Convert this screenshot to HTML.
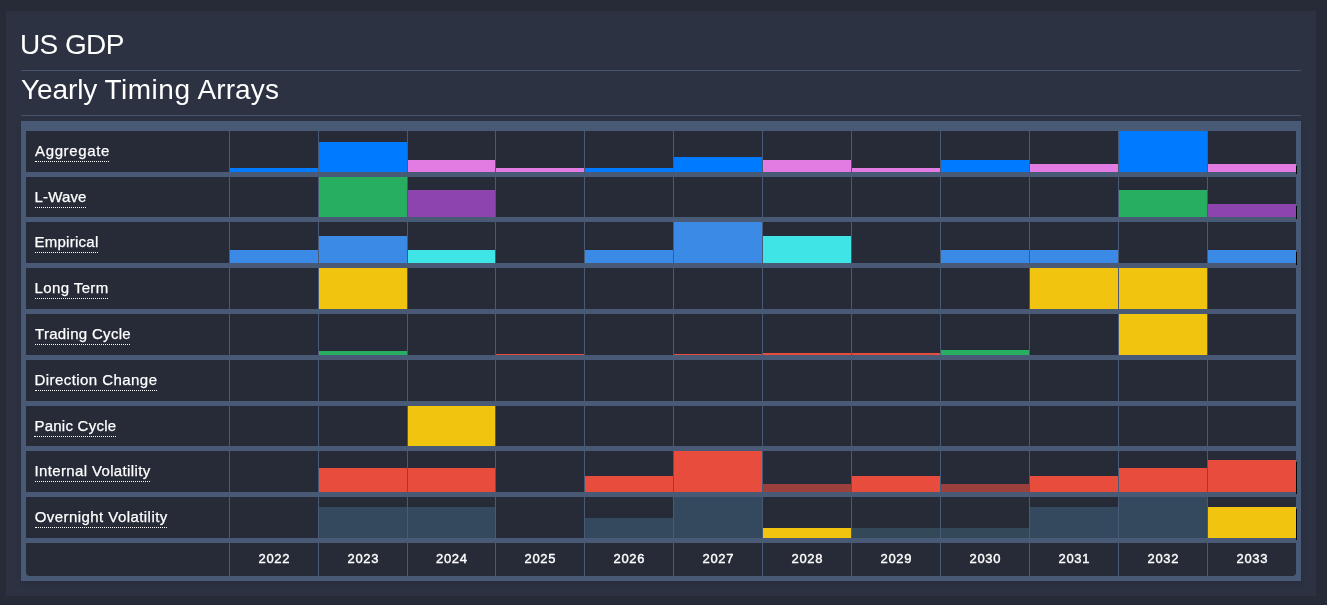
<!DOCTYPE html>
<html lang="en"><head><meta charset="utf-8"><title>US GDP - Yearly Timing Arrays</title>
<style>
html,body{margin:0;padding:0}
body{width:1327px;height:605px;overflow:hidden;background:#262b37;position:relative;font-family:"Liberation Sans",sans-serif;color:#fff}
.panel{position:absolute;left:6px;top:11px;width:1310px;height:585px;background:#2c3242}
h1,h2{position:absolute;margin:0;font-weight:400;font-size:28px;line-height:32px;left:21px;white-space:nowrap;color:#fff}
h1{top:29px;letter-spacing:-0.6px;left:20px}
h2{top:74px;width:300px;height:32px}
h2 span{position:absolute;top:0}
.hr{position:absolute;left:21px;width:1280px;height:1px;background:#46546f}
.tbl{position:absolute;left:21px;top:121px;width:1280px;height:460px;background:#495a77;box-shadow:0 2px 6px rgba(0,0,0,.12)}
.c{position:absolute;background:#262b37}
.b{position:absolute}
.k{position:absolute;width:1px;background:#000;left:1296px}
.lab{position:absolute;left:35px;font-size:15px;line-height:20px;white-space:nowrap;color:#fff}
.lab span{display:inline-block;border-bottom:1px dotted #fff}
.lab i{font-style:normal;-webkit-text-stroke:0.25px #fff}
.yr{position:absolute;font-size:13px;line-height:16px;font-weight:400;-webkit-text-stroke:0.4px #fff;letter-spacing:0.65px;text-indent:0.65px;text-align:center;color:#fff}
</style></head><body>
<div class="panel"></div>
<h1>US GDP</h1>
<div class="hr" style="top:70px"></div>
<h2><span style="left:0;letter-spacing:-0.1px">Yearly</span> <span style="left:83.5px;letter-spacing:0.5px">Timing</span> <span style="left:176.5px;letter-spacing:0.1px">Arrays</span></h2>
<div class="hr" style="top:115px"></div>
<div class="tbl"></div>

<div class="c" style="left:26px;top:131px;width:203px;height:41px"></div>
<div class="c" style="left:230px;top:131px;width:88px;height:41px"></div>
<div class="b" style="left:230px;top:168px;width:88px;height:4px;background:#007bff"></div>
<div class="c" style="left:319px;top:131px;width:88px;height:41px"></div>
<div class="b" style="left:319px;top:142px;width:88px;height:30px;background:#007bff"></div>
<div class="c" style="left:408px;top:131px;width:87px;height:41px"></div>
<div class="b" style="left:408px;top:160px;width:87px;height:12px;background:#e27be2"></div>
<div class="c" style="left:496px;top:131px;width:88px;height:41px"></div>
<div class="b" style="left:496px;top:168px;width:88px;height:4px;background:#e27be2"></div>
<div class="c" style="left:585px;top:131px;width:88px;height:41px"></div>
<div class="b" style="left:585px;top:168px;width:88px;height:4px;background:#007bff"></div>
<div class="c" style="left:674px;top:131px;width:88px;height:41px"></div>
<div class="b" style="left:674px;top:157px;width:88px;height:15px;background:#007bff"></div>
<div class="c" style="left:763px;top:131px;width:88px;height:41px"></div>
<div class="b" style="left:763px;top:160px;width:88px;height:12px;background:#e27be2"></div>
<div class="c" style="left:852px;top:131px;width:88px;height:41px"></div>
<div class="b" style="left:852px;top:168px;width:88px;height:4px;background:#e27be2"></div>
<div class="c" style="left:941px;top:131px;width:88px;height:41px"></div>
<div class="b" style="left:941px;top:160px;width:88px;height:12px;background:#007bff"></div>
<div class="c" style="left:1030px;top:131px;width:88px;height:41px"></div>
<div class="b" style="left:1030px;top:164px;width:88px;height:8px;background:#e27be2"></div>
<div class="c" style="left:1119px;top:131px;width:88px;height:41px"></div>
<div class="b" style="left:1119px;top:131px;width:88px;height:41px;background:#007bff"></div>
<div class="c" style="left:1208px;top:131px;width:88px;height:41px"></div>
<div class="b" style="left:1208px;top:164px;width:88px;height:8px;background:#e27be2"></div>
<div class="k" style="top:166px;height:8px"></div>
<div class="lab" style="top:141px;left:35.0px;letter-spacing:0.64px"><span style="width:74.0px"><i>Aggregate</i></span></div>
<div class="c" style="left:26px;top:177px;width:203px;height:40px"></div>
<div class="c" style="left:230px;top:177px;width:88px;height:40px"></div>
<div class="c" style="left:319px;top:177px;width:88px;height:40px"></div>
<div class="b" style="left:319px;top:177px;width:88px;height:40px;background:#27ae60"></div>
<div class="c" style="left:408px;top:177px;width:87px;height:40px"></div>
<div class="b" style="left:408px;top:190px;width:87px;height:27px;background:#8e44ad"></div>
<div class="c" style="left:496px;top:177px;width:88px;height:40px"></div>
<div class="c" style="left:585px;top:177px;width:88px;height:40px"></div>
<div class="c" style="left:674px;top:177px;width:88px;height:40px"></div>
<div class="c" style="left:763px;top:177px;width:88px;height:40px"></div>
<div class="c" style="left:852px;top:177px;width:88px;height:40px"></div>
<div class="c" style="left:941px;top:177px;width:88px;height:40px"></div>
<div class="c" style="left:1030px;top:177px;width:88px;height:40px"></div>
<div class="c" style="left:1119px;top:177px;width:88px;height:40px"></div>
<div class="b" style="left:1119px;top:190px;width:88px;height:27px;background:#27ae60"></div>
<div class="c" style="left:1208px;top:177px;width:88px;height:40px"></div>
<div class="b" style="left:1208px;top:204px;width:88px;height:13px;background:#8e44ad"></div>
<div class="k" style="top:206px;height:13px"></div>
<div class="lab" style="top:187px;left:34.6px;letter-spacing:0.15px"><span style="width:51.4px"><i>L-Wave</i></span></div>
<div class="c" style="left:26px;top:222px;width:203px;height:41px"></div>
<div class="c" style="left:230px;top:222px;width:88px;height:41px"></div>
<div class="b" style="left:230px;top:250px;width:88px;height:13px;background:#3a8ae6"></div>
<div class="c" style="left:319px;top:222px;width:88px;height:41px"></div>
<div class="b" style="left:319px;top:236px;width:88px;height:27px;background:#3a8ae6"></div>
<div class="c" style="left:408px;top:222px;width:87px;height:41px"></div>
<div class="b" style="left:408px;top:250px;width:87px;height:13px;background:#3ee4e6"></div>
<div class="c" style="left:496px;top:222px;width:88px;height:41px"></div>
<div class="c" style="left:585px;top:222px;width:88px;height:41px"></div>
<div class="b" style="left:585px;top:250px;width:88px;height:13px;background:#3a8ae6"></div>
<div class="c" style="left:674px;top:222px;width:88px;height:41px"></div>
<div class="b" style="left:674px;top:222px;width:88px;height:41px;background:#3a8ae6"></div>
<div class="c" style="left:763px;top:222px;width:88px;height:41px"></div>
<div class="b" style="left:763px;top:236px;width:88px;height:27px;background:#3ee4e6"></div>
<div class="c" style="left:852px;top:222px;width:88px;height:41px"></div>
<div class="c" style="left:941px;top:222px;width:88px;height:41px"></div>
<div class="b" style="left:941px;top:250px;width:88px;height:13px;background:#3a8ae6"></div>
<div class="c" style="left:1030px;top:222px;width:88px;height:41px"></div>
<div class="b" style="left:1030px;top:250px;width:88px;height:13px;background:#3a8ae6"></div>
<div class="c" style="left:1119px;top:222px;width:88px;height:41px"></div>
<div class="c" style="left:1208px;top:222px;width:88px;height:41px"></div>
<div class="b" style="left:1208px;top:250px;width:88px;height:13px;background:#3a8ae6"></div>
<div class="k" style="top:252px;height:13px"></div>
<div class="lab" style="top:232px;left:34.5px;letter-spacing:0.26px"><span style="width:63.5px"><i>Empirical</i></span></div>
<div class="c" style="left:26px;top:268px;width:203px;height:41px"></div>
<div class="c" style="left:230px;top:268px;width:88px;height:41px"></div>
<div class="c" style="left:319px;top:268px;width:88px;height:41px"></div>
<div class="b" style="left:319px;top:268px;width:88px;height:41px;background:#f1c40f"></div>
<div class="c" style="left:408px;top:268px;width:87px;height:41px"></div>
<div class="c" style="left:496px;top:268px;width:88px;height:41px"></div>
<div class="c" style="left:585px;top:268px;width:88px;height:41px"></div>
<div class="c" style="left:674px;top:268px;width:88px;height:41px"></div>
<div class="c" style="left:763px;top:268px;width:88px;height:41px"></div>
<div class="c" style="left:852px;top:268px;width:88px;height:41px"></div>
<div class="c" style="left:941px;top:268px;width:88px;height:41px"></div>
<div class="c" style="left:1030px;top:268px;width:88px;height:41px"></div>
<div class="b" style="left:1030px;top:268px;width:88px;height:41px;background:#f1c40f"></div>
<div class="c" style="left:1119px;top:268px;width:88px;height:41px"></div>
<div class="b" style="left:1119px;top:268px;width:88px;height:41px;background:#f1c40f"></div>
<div class="c" style="left:1208px;top:268px;width:88px;height:41px"></div>
<div class="lab" style="top:278px;left:34.6px;letter-spacing:0.38px"><span style="width:73.4px"><i>Long Term</i></span></div>
<div class="c" style="left:26px;top:314px;width:203px;height:41px"></div>
<div class="c" style="left:230px;top:314px;width:88px;height:41px"></div>
<div class="c" style="left:319px;top:314px;width:88px;height:41px"></div>
<div class="b" style="left:319px;top:351px;width:88px;height:4px;background:#27ae60"></div>
<div class="c" style="left:408px;top:314px;width:87px;height:41px"></div>
<div class="c" style="left:496px;top:314px;width:88px;height:41px"></div>
<div class="b" style="left:496px;top:354px;width:88px;height:1px;background:#e74c3c"></div>
<div class="c" style="left:585px;top:314px;width:88px;height:41px"></div>
<div class="c" style="left:674px;top:314px;width:88px;height:41px"></div>
<div class="b" style="left:674px;top:354px;width:88px;height:1px;background:#e74c3c"></div>
<div class="c" style="left:763px;top:314px;width:88px;height:41px"></div>
<div class="b" style="left:763px;top:353px;width:88px;height:2px;background:#e74c3c"></div>
<div class="c" style="left:852px;top:314px;width:88px;height:41px"></div>
<div class="b" style="left:852px;top:353px;width:88px;height:2px;background:#e74c3c"></div>
<div class="c" style="left:941px;top:314px;width:88px;height:41px"></div>
<div class="b" style="left:941px;top:350px;width:88px;height:5px;background:#27ae60"></div>
<div class="c" style="left:1030px;top:314px;width:88px;height:41px"></div>
<div class="c" style="left:1119px;top:314px;width:88px;height:41px"></div>
<div class="b" style="left:1119px;top:314px;width:88px;height:41px;background:#f1c40f"></div>
<div class="c" style="left:1208px;top:314px;width:88px;height:41px"></div>
<div class="lab" style="top:324px;left:35.0px;letter-spacing:0.31px"><span style="width:95.0px"><i>Trading Cycle</i></span></div>
<div class="c" style="left:26px;top:360px;width:203px;height:41px"></div>
<div class="c" style="left:230px;top:360px;width:88px;height:41px"></div>
<div class="c" style="left:319px;top:360px;width:88px;height:41px"></div>
<div class="c" style="left:408px;top:360px;width:87px;height:41px"></div>
<div class="c" style="left:496px;top:360px;width:88px;height:41px"></div>
<div class="c" style="left:585px;top:360px;width:88px;height:41px"></div>
<div class="c" style="left:674px;top:360px;width:88px;height:41px"></div>
<div class="c" style="left:763px;top:360px;width:88px;height:41px"></div>
<div class="c" style="left:852px;top:360px;width:88px;height:41px"></div>
<div class="c" style="left:941px;top:360px;width:88px;height:41px"></div>
<div class="c" style="left:1030px;top:360px;width:88px;height:41px"></div>
<div class="c" style="left:1119px;top:360px;width:88px;height:41px"></div>
<div class="c" style="left:1208px;top:360px;width:88px;height:41px"></div>
<div class="lab" style="top:370px;left:34.5px;letter-spacing:0.44px"><span style="width:122.5px"><i>Direction Change</i></span></div>
<div class="c" style="left:26px;top:406px;width:203px;height:40px"></div>
<div class="c" style="left:230px;top:406px;width:88px;height:40px"></div>
<div class="c" style="left:319px;top:406px;width:88px;height:40px"></div>
<div class="c" style="left:408px;top:406px;width:87px;height:40px"></div>
<div class="b" style="left:408px;top:406px;width:87px;height:40px;background:#f1c40f"></div>
<div class="c" style="left:496px;top:406px;width:88px;height:40px"></div>
<div class="c" style="left:585px;top:406px;width:88px;height:40px"></div>
<div class="c" style="left:674px;top:406px;width:88px;height:40px"></div>
<div class="c" style="left:763px;top:406px;width:88px;height:40px"></div>
<div class="c" style="left:852px;top:406px;width:88px;height:40px"></div>
<div class="c" style="left:941px;top:406px;width:88px;height:40px"></div>
<div class="c" style="left:1030px;top:406px;width:88px;height:40px"></div>
<div class="c" style="left:1119px;top:406px;width:88px;height:40px"></div>
<div class="c" style="left:1208px;top:406px;width:88px;height:40px"></div>
<div class="lab" style="top:416px;left:34.4px;letter-spacing:0.25px"><span style="width:81.6px"><i>Panic Cycle</i></span></div>
<div class="c" style="left:26px;top:451px;width:203px;height:41px"></div>
<div class="c" style="left:230px;top:451px;width:88px;height:41px"></div>
<div class="c" style="left:319px;top:451px;width:88px;height:41px"></div>
<div class="b" style="left:319px;top:468px;width:88px;height:24px;background:#e74c3c"></div>
<div class="c" style="left:408px;top:451px;width:87px;height:41px"></div>
<div class="b" style="left:408px;top:468px;width:87px;height:24px;background:#e74c3c"></div>
<div class="c" style="left:496px;top:451px;width:88px;height:41px"></div>
<div class="c" style="left:585px;top:451px;width:88px;height:41px"></div>
<div class="b" style="left:585px;top:476px;width:88px;height:16px;background:#e74c3c"></div>
<div class="c" style="left:674px;top:451px;width:88px;height:41px"></div>
<div class="b" style="left:674px;top:451px;width:88px;height:41px;background:#e74c3c"></div>
<div class="c" style="left:763px;top:451px;width:88px;height:41px"></div>
<div class="b" style="left:763px;top:484px;width:88px;height:8px;background:#9c403e"></div>
<div class="c" style="left:852px;top:451px;width:88px;height:41px"></div>
<div class="b" style="left:852px;top:476px;width:88px;height:16px;background:#e74c3c"></div>
<div class="c" style="left:941px;top:451px;width:88px;height:41px"></div>
<div class="b" style="left:941px;top:484px;width:88px;height:8px;background:#9c403e"></div>
<div class="c" style="left:1030px;top:451px;width:88px;height:41px"></div>
<div class="b" style="left:1030px;top:476px;width:88px;height:16px;background:#e74c3c"></div>
<div class="c" style="left:1119px;top:451px;width:88px;height:41px"></div>
<div class="b" style="left:1119px;top:468px;width:88px;height:24px;background:#e74c3c"></div>
<div class="c" style="left:1208px;top:451px;width:88px;height:41px"></div>
<div class="b" style="left:1208px;top:460px;width:88px;height:32px;background:#e74c3c"></div>
<div class="k" style="top:462px;height:32px"></div>
<div class="lab" style="top:461px;left:34.5px;letter-spacing:0.36px"><span style="width:115.5px"><i>Internal Volatility</i></span></div>
<div class="c" style="left:26px;top:497px;width:203px;height:41px"></div>
<div class="c" style="left:230px;top:497px;width:88px;height:41px"></div>
<div class="c" style="left:319px;top:497px;width:88px;height:41px"></div>
<div class="b" style="left:319px;top:507px;width:88px;height:31px;background:#34495e"></div>
<div class="c" style="left:408px;top:497px;width:87px;height:41px"></div>
<div class="b" style="left:408px;top:507px;width:87px;height:31px;background:#34495e"></div>
<div class="c" style="left:496px;top:497px;width:88px;height:41px"></div>
<div class="c" style="left:585px;top:497px;width:88px;height:41px"></div>
<div class="b" style="left:585px;top:518px;width:88px;height:20px;background:#34495e"></div>
<div class="c" style="left:674px;top:497px;width:88px;height:41px"></div>
<div class="b" style="left:674px;top:497px;width:88px;height:41px;background:#34495e"></div>
<div class="c" style="left:763px;top:497px;width:88px;height:41px"></div>
<div class="b" style="left:763px;top:528px;width:88px;height:10px;background:#f1c40f"></div>
<div class="c" style="left:852px;top:497px;width:88px;height:41px"></div>
<div class="b" style="left:852px;top:528px;width:88px;height:10px;background:#33495a"></div>
<div class="c" style="left:941px;top:497px;width:88px;height:41px"></div>
<div class="b" style="left:941px;top:528px;width:88px;height:10px;background:#33495a"></div>
<div class="c" style="left:1030px;top:497px;width:88px;height:41px"></div>
<div class="b" style="left:1030px;top:507px;width:88px;height:31px;background:#34495e"></div>
<div class="c" style="left:1119px;top:497px;width:88px;height:41px"></div>
<div class="b" style="left:1119px;top:497px;width:88px;height:41px;background:#34495e"></div>
<div class="c" style="left:1208px;top:497px;width:88px;height:41px"></div>
<div class="b" style="left:1208px;top:507px;width:88px;height:31px;background:#f1c40f"></div>
<div class="k" style="top:509px;height:31px"></div>
<div class="lab" style="top:507px;left:34.7px;letter-spacing:0.44px"><span style="width:132.3px"><i>Overnight Volatility</i></span></div>
<div class="c" style="left:26px;top:543px;width:203px;height:33px;border-radius:0 0 0 4px"></div>
<div class="c" style="left:230px;top:543px;width:88px;height:33px"></div>
<div class="c" style="left:319px;top:543px;width:88px;height:33px"></div>
<div class="c" style="left:408px;top:543px;width:87px;height:33px"></div>
<div class="c" style="left:496px;top:543px;width:88px;height:33px"></div>
<div class="c" style="left:585px;top:543px;width:88px;height:33px"></div>
<div class="c" style="left:674px;top:543px;width:88px;height:33px"></div>
<div class="c" style="left:763px;top:543px;width:88px;height:33px"></div>
<div class="c" style="left:852px;top:543px;width:88px;height:33px"></div>
<div class="c" style="left:941px;top:543px;width:88px;height:33px"></div>
<div class="c" style="left:1030px;top:543px;width:88px;height:33px"></div>
<div class="c" style="left:1119px;top:543px;width:88px;height:33px"></div>
<div class="c" style="left:1208px;top:543px;width:88px;height:33px;border-radius:0 0 4px 0"></div>
<div class="yr" style="left:230px;width:88px;top:551px">2022</div>
<div class="yr" style="left:319px;width:88px;top:551px">2023</div>
<div class="yr" style="left:408px;width:87px;top:551px">2024</div>
<div class="yr" style="left:496px;width:88px;top:551px">2025</div>
<div class="yr" style="left:585px;width:88px;top:551px">2026</div>
<div class="yr" style="left:674px;width:88px;top:551px">2027</div>
<div class="yr" style="left:763px;width:88px;top:551px">2028</div>
<div class="yr" style="left:852px;width:88px;top:551px">2029</div>
<div class="yr" style="left:941px;width:88px;top:551px">2030</div>
<div class="yr" style="left:1030px;width:88px;top:551px">2031</div>
<div class="yr" style="left:1119px;width:88px;top:551px">2032</div>
<div class="yr" style="left:1208px;width:88px;top:551px">2033</div>
</body></html>
